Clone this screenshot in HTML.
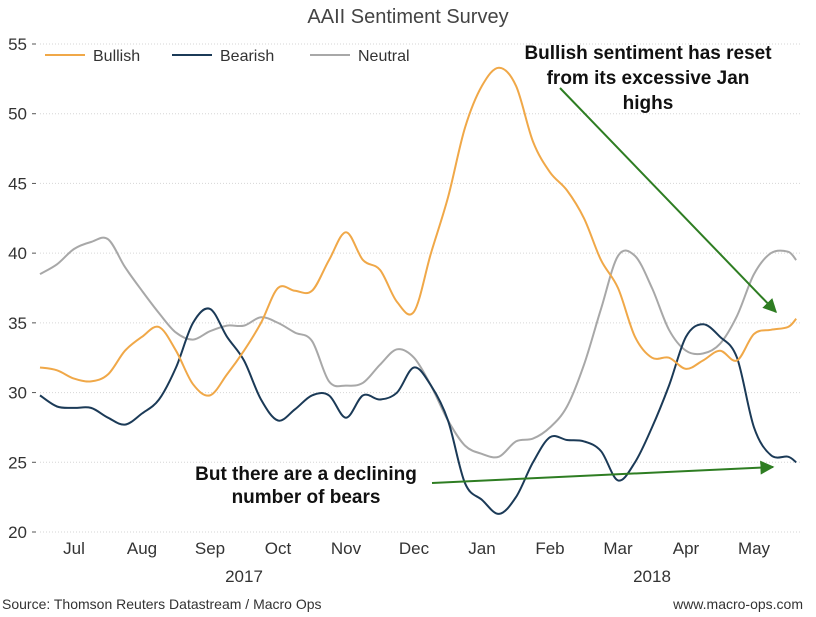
<!DOCTYPE html>
<html><head><meta charset="utf-8"><style>
body{margin:0;background:#fff;}
svg text{font-family:"Liberation Sans",sans-serif;}
</style></head><body>
<svg id="chart" width="816" height="612" xmlns="http://www.w3.org/2000/svg">
<defs><marker id="ah" viewBox="0 0 10 10" refX="9" refY="5" markerWidth="7" markerHeight="7" orient="auto"><path d="M0,0 L10,5 L0,10 z" fill="#2e7d22"/></marker></defs>
<text x="408" y="23" text-anchor="middle" font-size="20" fill="#444">AAII Sentiment Survey</text>
<g id="grid"></g><g id="yaxis"></g><g id="xaxis"></g><g id="series"></g>
<g>
<line x1="45" y1="55" x2="85" y2="55" stroke="#f0a848" stroke-width="2"/>
<text x="93" y="61" font-size="16" fill="#333">Bullish</text>
<line x1="172" y1="55" x2="212" y2="55" stroke="#1b3a57" stroke-width="2"/>
<text x="220" y="61" font-size="16" fill="#333">Bearish</text>
<line x1="310" y1="55" x2="350" y2="55" stroke="#a8a8a8" stroke-width="2"/>
<text x="358" y="61" font-size="16" fill="#333">Neutral</text>
</g>
<g font-size="19" font-weight="bold" fill="#111" text-anchor="middle">
<text x="648" y="59">Bullish sentiment has reset</text>
<text x="648" y="84">from its excessive Jan</text>
<text x="648" y="109">highs</text>
</g>
<line x1="560" y1="88" x2="776" y2="312" stroke="#2e7d22" stroke-width="2" marker-end="url(#ah)"/>
<g font-size="19" font-weight="bold" fill="#111" text-anchor="middle">
<text x="306" y="480">But there are a declining</text>
<text x="306" y="503">number of bears</text>
</g>
<line x1="432" y1="483" x2="773" y2="467" stroke="#2e7d22" stroke-width="2" marker-end="url(#ah)"/>
<text x="2" y="609" font-size="14" fill="#333">Source: Thomson Reuters Datastream / Macro Ops</text>
<text x="803" y="609" text-anchor="end" font-size="14" fill="#333">www.macro-ops.com</text>
</svg>
<script>
const yTicks=[20,25,30,35,40,45,50,55];
const months=["Jul","Aug","Sep","Oct","Nov","Dec","Jan","Feb","Mar","Apr","May"];
const years=["2017","2018"];
const dates=[0,0.25,0.5,0.75,1,1.25,1.5,1.75,2,2.25,2.5,2.75,3,3.25,3.5,3.75,4,4.25,4.5,4.75,5,5.25,5.5,5.75,6,6.25,6.5,6.75,7,7.25,7.5,7.75,8,8.25,8.5,8.75,9,9.25,9.5,9.75,10,10.25,10.5,10.75,11,11.12];
const bullish=[31.8,31.6,31.0,30.8,31.3,33.0,34.0,34.7,33.0,30.6,29.8,31.3,33.0,35.0,37.5,37.3,37.3,39.5,41.5,39.5,38.8,36.5,35.8,40,44,49,52,53.3,52,48,45.8,44.5,42.5,39.5,37.5,34,32.5,32.5,31.7,32.3,33,32.3,34.2,34.5,34.7,35.3];
const bearish=[29.8,29.0,28.9,28.9,28.2,27.7,28.5,29.5,31.8,35.0,36.0,34.0,32.3,29.5,28.0,28.8,29.8,29.8,28.2,29.8,29.5,30.0,31.8,30.5,28,23.5,22.3,21.3,22.5,25,26.8,26.6,26.5,25.8,23.7,25,27.5,30.5,34,34.9,34,32.5,27.5,25.5,25.4,25.0];
const neutral=[38.5,39.2,40.3,40.8,41.0,39.0,37.3,35.7,34.3,33.8,34.4,34.8,34.8,35.4,35,34.3,33.7,30.8,30.5,30.7,32,33.1,32.5,30.5,28,26.2,25.6,25.4,26.5,26.7,27.5,29,32,36,39.8,39.8,37.5,34.5,33,32.8,33.5,35.5,38.5,40,40.1,39.5];
const NS="http://www.w3.org/2000/svg";
const X=m=>40+m*68;
const Y=v=>532-(v-20)*(488/35);
function mk(tag,attrs,parent,txt){const e=document.createElementNS(NS,tag);for(const k in attrs)e.setAttribute(k,attrs[k]);if(txt!==undefined)e.textContent=txt;document.getElementById(parent).appendChild(e);return e;}
yTicks.forEach(v=>{
  const g=mk("line",{x1:40,x2:800,y1:Y(v),y2:Y(v),stroke:"#d6d6d6","stroke-width":1,"stroke-dasharray":"1,2"},"grid");
  
  
  const t=mk("text",{x:27,y:Y(v)+6,"text-anchor":"end","font-size":17,fill:"#333"},"yaxis",String(v));
  
  
  const tk=mk("line",{x1:32,x2:36,y1:Y(v),y2:Y(v),stroke:"#555","stroke-width":1},"yaxis");
  
  
});
months.forEach((m,i)=>{
  const t=mk("text",{x:X(i+0.5),y:554,"text-anchor":"middle","font-size":17,fill:"#333"},"xaxis",m);
  
  
});
[[years[0],3],[years[1],9]].forEach(([y,m])=>{
  const t=mk("text",{x:X(m),y:582,"text-anchor":"middle","font-size":17,fill:"#333"},"xaxis",y);
  
  
});
function smooth(pts){
  let d="M"+pts[0][0].toFixed(1)+","+pts[0][1].toFixed(1);
  for(let i=0;i<pts.length-1;i++){
    const p0=pts[Math.max(0,i-1)],p1=pts[i],p2=pts[i+1],p3=pts[Math.min(pts.length-1,i+2)];
    const c1x=p1[0]+(p2[0]-p0[0])/6,c1y=p1[1]+(p2[1]-p0[1])/6;
    const c2x=p2[0]-(p3[0]-p1[0])/6,c2y=p2[1]-(p3[1]-p1[1])/6;
    d+=" C"+c1x.toFixed(1)+","+c1y.toFixed(1)+" "+c2x.toFixed(1)+","+c2y.toFixed(1)+" "+p2[0].toFixed(1)+","+p2[1].toFixed(1);
  }
  return d;
}
[[neutral,"#a8a8a8","neutral-line"],[bearish,"#1b3a57","bearish-line"],[bullish,"#f0a848","bullish-line"]].forEach(([s,c,n])=>{
  const pts=s.map((v,i)=>[X(dates[i]),Y(v)]);
  const p=mk("path",{d:smooth(pts),fill:"none",stroke:c,"stroke-width":2,"stroke-linejoin":"round"},"series");
  
  
});
</script>
</body></html>
